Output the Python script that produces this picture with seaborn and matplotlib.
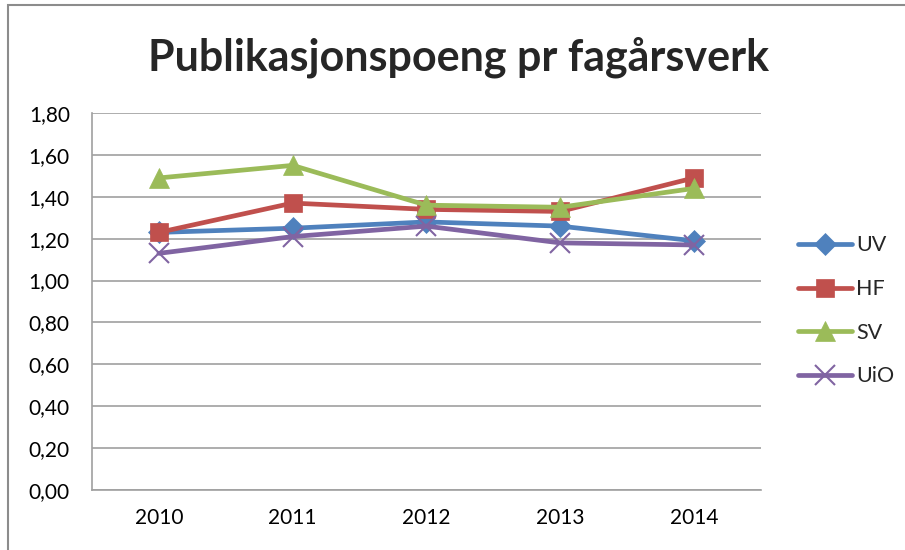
import pandas as pd
import seaborn as sns
import matplotlib.pyplot as plt
from matplotlib.ticker import FuncFormatter
from matplotlib.patches import Rectangle

# Values
years = ['2010', '2011', '2012', '2013', '2014']
uv = [1.23, 1.25, 1.28, 1.26, 1.19]
hf = [1.23, 1.37, 1.34, 1.33, 1.49]
sv = [1.49, 1.55, 1.36, 1.35, 1.44]
uio = [1.13, 1.21, 1.26, 1.18, 1.17]

series_names = ['UV', 'HF', 'SV', 'UiO']
series_values = [uv, hf, sv, uio]
colors = ['#4F81BD', '#C0504D', '#9BBB59', '#8064A2']
markers = ['D', 's', '^', 'x']
marker_sizes = [11, 13, 14, 14]

sns.set_style('white')
plt.rcParams['font.family'] = ['Lato', 'DejaVu Sans']

fig = plt.figure(figsize=(9.05, 5.5), dpi=100)
ax = fig.add_axes([0.1017, 0.1091, 0.7388, 0.6854])

# gray frame around the whole chart (cut off on right/bottom like the screenshot)
fig.patches.append(Rectangle((8 / 905, -0.05), 1.2, 1 - 5 / 550 + 0.05,
                             transform=fig.transFigure, fill=False,
                             edgecolor='#8c8c8c', linewidth=1.5))

for name, vals, c, m, ms in zip(series_names, series_values, colors, markers, marker_sizes):
    df = pd.DataFrame({'pos': range(len(years)), 'value': vals})
    sns.lineplot(data=df, x='pos', y='value', ax=ax, color=c, linewidth=3.4,
                 marker=m, markersize=ms, markeredgecolor=c,
                 markeredgewidth=1.5 if m == 'x' else 0.5, label=name)

ax.set_xlim(-0.5, len(years) - 0.5)
ax.set_ylim(0, 1.8)
ax.set_yticks([i * 0.2 for i in range(10)])
ax.yaxis.set_major_formatter(FuncFormatter(lambda v, p: f'{v:.2f}'.replace('.', ',')))
ax.set_xticks(range(len(years)))
ax.set_xticklabels(years)
ax.set_xticks([i - 0.5 for i in range(len(years) + 1)], minor=True)
ax.tick_params(axis='x', which='major', length=0, pad=13, labelsize=15, colors='black')
ax.tick_params(axis='x', which='minor', length=7, color='#a0a0a0', width=1.2, direction='out')
ax.tick_params(axis='y', length=7, color='#a0a0a0', width=1.2, direction='out',
               pad=9, labelsize=15, colors='black')
for t in ax.yaxis.get_ticklines():
    t.set_color('#a0a0a0')

ax.yaxis.grid(True, color='#a0a0a0', linewidth=1.2)
ax.set_axisbelow(True)
for s in ['top', 'right']:
    ax.spines[s].set_visible(False)
for s in ['left', 'bottom']:
    ax.spines[s].set_color('#a0a0a0')
    ax.spines[s].set_linewidth(1.2)
ax.set_xlabel('')
ax.set_ylabel('')

fig.text(0.507, 0.896, 'Publikasjonspoeng pr fagårsverk', ha='center', va='center',
         fontsize=31, fontweight='bold')

ax.legend(loc='center left', bbox_to_anchor=(1.056, 0.475), frameon=False,
          fontsize=15.5, handlelength=2.5, handletextpad=0.2, labelspacing=1.1,
          borderpad=0, borderaxespad=0)

fig.savefig('out.png', dpi=100)
